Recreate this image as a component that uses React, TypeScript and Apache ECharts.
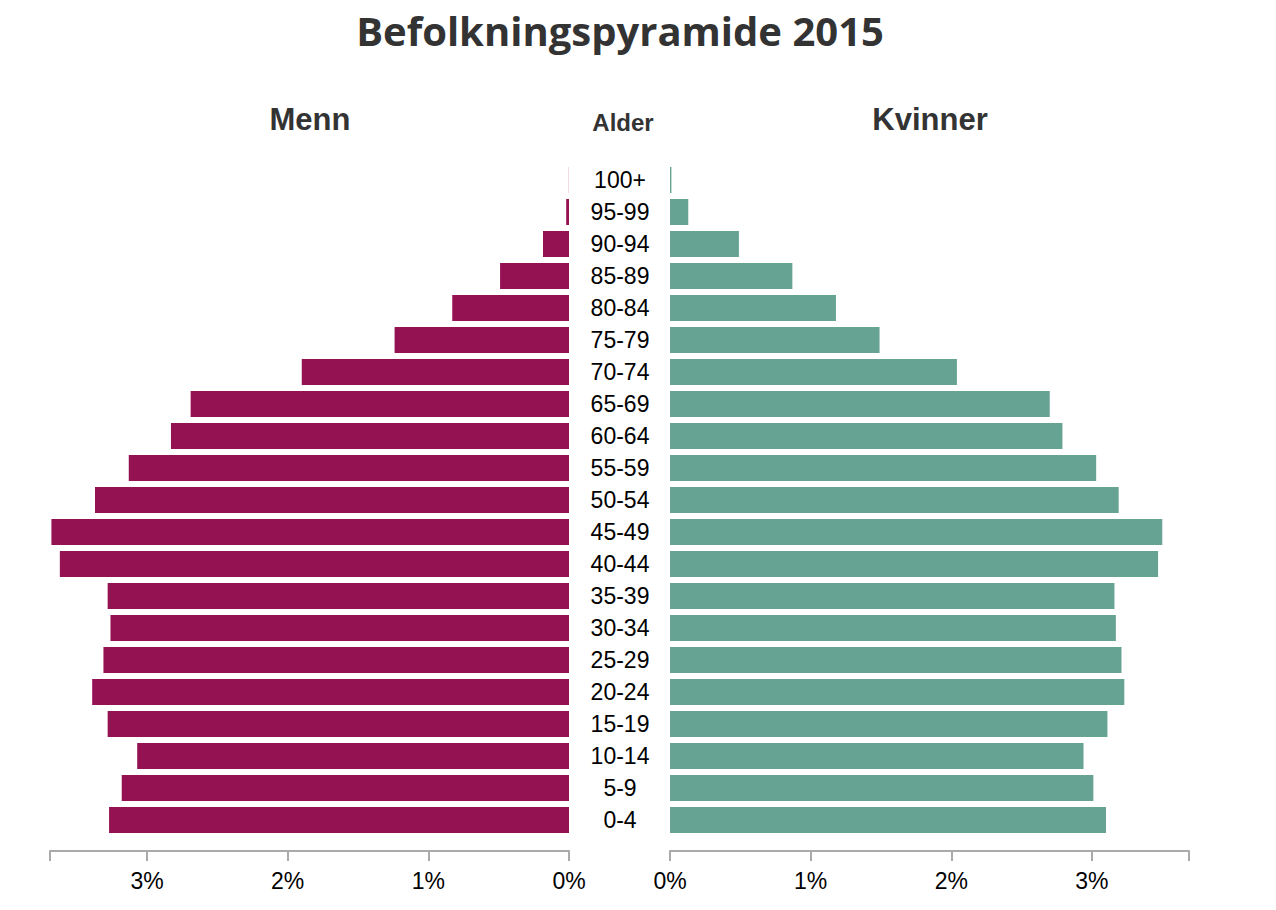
import React, { useEffect, useRef } from "react";
import * as echarts from "echarts";

const ageGroups = [
  "0-4", "5-9", "10-14", "15-19", "20-24", "25-29", "30-34", "35-39", "40-44", "45-49",
  "50-54", "55-59", "60-64", "65-69", "70-74", "75-79", "80-84", "85-89", "90-94", "95-99", "100+",
];

const menn = [
  3.27, 3.18, 3.07, 3.28, 3.39, 3.31, 3.26, 3.28, 3.62, 3.68,
  3.37, 3.13, 2.83, 2.69, 1.90, 1.24, 0.83, 0.49, 0.185, 0.02, 0.001,
];

const kvinner = [
  3.10, 3.01, 2.94, 3.11, 3.23, 3.21, 3.17, 3.16, 3.47, 3.50,
  3.19, 3.03, 2.79, 2.70, 2.04, 1.49, 1.18, 0.87, 0.49, 0.13, 0.01,
];

const xTicks = [0, 1, 2, 3];
const axisMax = 3.69;

const mennColor = "#941152";
const kvinnerColor = "#66a393";

export default function App() {
  const ref = useRef<HTMLDivElement>(null);

  useEffect(() => {
    if (!ref.current) return;
    const chart = echarts.init(ref.current, null, { renderer: "svg" });
    const labelFmt = (v: number) => (xTicks.includes(Math.round(v * 1000) / 1000) ? `${v}%` : "");
    const xAxisCommon = {
      type: "value",
      min: 0,
      max: axisMax,
      interval: 1,
      offset: 15,
      splitLine: { show: false },
      axisLine: { show: true, lineStyle: { color: "#aaaaaa", width: 2 } },
      axisTick: { show: true, length: 10, lineStyle: { color: "#aaaaaa", width: 2 } },
      axisLabel: {
        formatter: labelFmt,
        color: "#000",
        fontSize: 23,
        fontFamily: "Liberation Sans, Arial, sans-serif",
        margin: 18,
        showMaxLabel: true,
        showMinLabel: true,
      },
    };
    chart.setOption({
      animation: false,
      grid: [
        { left: 50, right: 707, top: 164, height: 672 },
        { left: 670, right: 87, top: 164, height: 672 },
      ],
      xAxis: [
        { ...xAxisCommon, gridIndex: 0, inverse: true },
        { ...xAxisCommon, gridIndex: 1 },
      ],
      yAxis: [
        {
          type: "category",
          gridIndex: 0,
          data: ageGroups,
          position: "right",
          axisLine: { show: false },
          axisTick: { show: false },
          axisLabel: {
            align: "center",
            margin: 51,
            color: "#000",
            fontSize: 23,
            fontFamily: "Liberation Sans, Arial, sans-serif",
          },
        },
        {
          type: "category",
          gridIndex: 1,
          data: ageGroups,
          axisLine: { show: false },
          axisTick: { show: false },
          axisLabel: { show: false },
        },
      ],
      series: [
        {
          name: "Menn",
          type: "bar",
          xAxisIndex: 0,
          yAxisIndex: 0,
          data: menn,
          barWidth: 26,
          itemStyle: { color: mennColor },
        },
        {
          name: "Kvinner",
          type: "bar",
          xAxisIndex: 1,
          yAxisIndex: 1,
          data: kvinner,
          barWidth: 26,
          itemStyle: { color: kvinnerColor },
        },
      ],
      graphic: [
        {
          type: "text",
          x: 620,
          y: 30,
          style: {
            text: "Befolkningspyramide 2015",
            fill: "#333",
            font: "bold 40px 'Open Sans', sans-serif",
            align: "center",
            verticalAlign: "middle",
          },
        },
        {
          type: "text",
          x: 310,
          y: 119,
          style: {
            text: "Menn",
            fill: "#333",
            font: "bold 31px 'Liberation Sans', Arial, sans-serif",
            align: "center",
            verticalAlign: "middle",
          },
        },
        {
          type: "text",
          x: 623,
          y: 122,
          style: {
            text: "Alder",
            fill: "#333",
            font: "bold 24px 'Liberation Sans', Arial, sans-serif",
            align: "center",
            verticalAlign: "middle",
          },
        },
        {
          type: "text",
          x: 930,
          y: 119,
          style: {
            text: "Kvinner",
            fill: "#333",
            font: "bold 31px 'Liberation Sans', Arial, sans-serif",
            align: "center",
            verticalAlign: "middle",
          },
        },
      ],
    });
    return () => chart.dispose();
  }, []);

  return (
    <div
      ref={ref}
      style={{ position: "absolute", left: 0, top: 0, width: 1276, height: 910 }}
    />
  );
}
